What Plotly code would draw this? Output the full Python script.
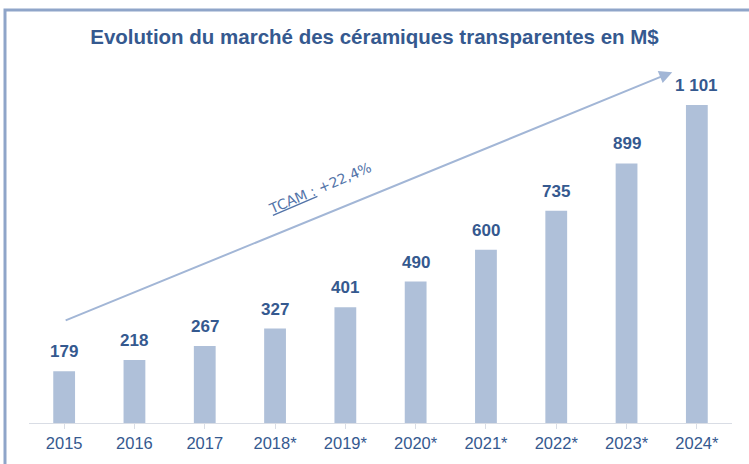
import plotly.graph_objects as go

years = ["2015", "2016", "2017", "2018*", "2019*", "2020*", "2021*", "2022*", "2023*", "2024*"]
values = [179, 218, 267, 327, 401, 490, 600, 735, 899, 1101]
value_labels = ["179", "218", "267", "327", "401", "490", "600", "735", "899", "1 101"]
title_text = "Evolution du marché des céramiques transparentes en M$"
cagr_text = "<u>TCAM :</u> +22,4%"

bar_color = "#AFC0D9"
text_color = "#35598F"
narrow = "Liberation Sans Narrow, Arial Narrow, Arial, sans-serif"

fig = go.Figure()
fig.add_trace(go.Bar(
    x=list(range(len(years))), y=values,
    marker=dict(color=bar_color, line=dict(width=0)),
    hoverinfo="skip",
))

for i, (v, lab) in enumerate(zip(values, value_labels)):
    fig.add_annotation(
        x=i, y=v, xref="x", yref="y", text="<b>" + lab + "</b>", showarrow=False,
        yanchor="bottom", yshift=8,
        font=dict(family="Liberation Sans, Arial, sans-serif", size=17, color=text_color),
    )

fig.update_layout(
    width=749, height=464,
    margin=dict(l=29, r=17, t=60, b=41),
    paper_bgcolor="white", plot_bgcolor="white",
    bargap=0.69, showlegend=False,
    title=dict(text="<b>" + title_text + "</b>", x=0.5, xanchor="center", y=0.92, yanchor="middle",
               font=dict(family="Liberation Sans Narrow, Arial Narrow, Arial, sans-serif", size=20.5, color=text_color)),
    xaxis=dict(
        tickmode="array", tickvals=list(range(len(years))), ticktext=years,
        range=[-0.5, 9.5], showgrid=False, zeroline=False,
        showline=True, linecolor="#D9DDE5", linewidth=1,
        ticks="outside", ticklen=5, tickcolor="#D9DDE5", tickson="boundaries",
        tickfont=dict(family=narrow, size=16.5, color=text_color),
    ),
    yaxis=dict(range=[0, 1257], visible=False, showgrid=False, zeroline=False),
)

# growth arrow
fig.add_annotation(
    x=8.65, y=1215, ax=0, ay=353, xref="x", yref="y", axref="x", ayref="y",
    text="", showarrow=True, arrowhead=2, arrowsize=1.3, arrowwidth=2, arrowcolor="#A2B6D6",
)
fig.add_annotation(
    x=3.64, y=814, xref="x", yref="y", text=cagr_text, showarrow=False, textangle=-23,
    font=dict(family="DejaVu Sans, sans-serif", size=14, color="#5273A8"),
)

# frame
fig.add_shape(type="rect", xref="paper", yref="paper",
              x0=(5 - 29) / 703, x1=(770 - 29) / 703, y0=(423 - 480) / 363, y1=(423 - 10) / 363,
              line=dict(color="#8FA5C9", width=3), fillcolor="rgba(0,0,0,0)", layer="below")

fig.write_html("out.html", config={"displayModeBar": False},
               post_script="document.body.style.margin='0';")
